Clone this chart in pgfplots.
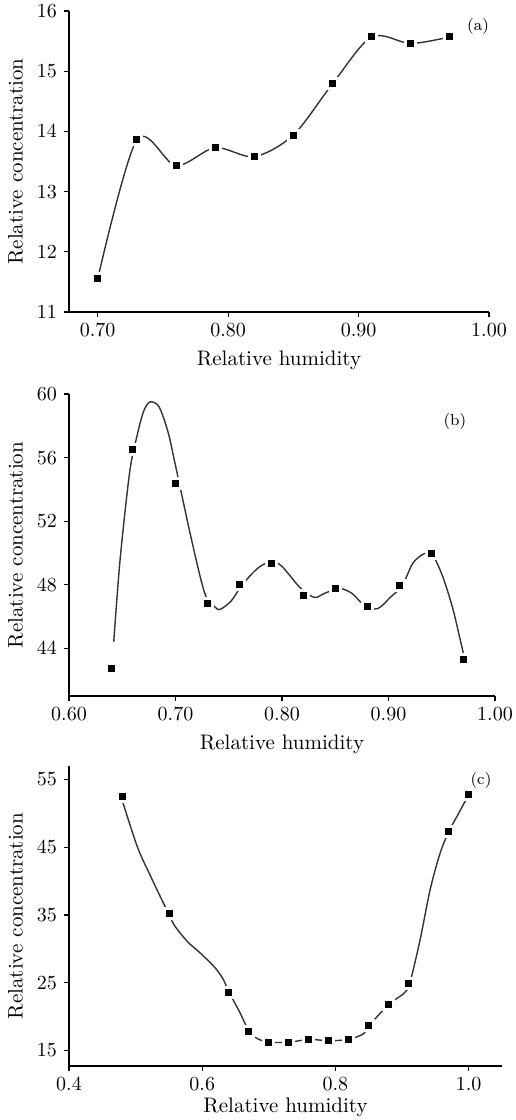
\documentclass[border=0pt]{standalone}
\usepackage{pgfplots}
\pgfplotsset{compat=1.18}
\usepackage{pgfplotstable}
\definecolor{curvegray}{HTML}{333333}

% markers of the three panels
\pgfplotstableread{
x y
0.70 11.55
0.73 13.86
0.76 13.43
0.79 13.73
0.82 13.58
0.85 13.94
0.88 14.79
0.91 15.57
0.94 15.46
0.97 15.57
}\ptsA
\pgfplotstableread{
x y
0.64 42.73
0.66 56.49
0.70 54.40
0.73 46.81
0.76 48.03
0.79 49.37
0.82 47.32
0.85 47.76
0.88 46.62
0.91 47.95
0.94 49.94
0.97 43.30
}\ptsB
\pgfplotstableread{
x y
0.48 52.53
0.55 35.30
0.64 23.64
0.67 17.77
0.70 16.23
0.73 16.20
0.76 16.63
0.79 16.43
0.82 16.63
0.85 18.65
0.88 21.81
0.91 24.93
0.97 47.40
1.00 52.78
}\ptsC
% fitted curves as drawn in the figure
\pgfplotstableread{
x y
0.642 44.40
0.648 49.60
0.657 55.10
0.664 57.40
0.670 58.90
0.676 59.50
0.6845 59.20
0.693 57.60
0.700 55.50
0.715 50.85
0.7275 47.46
0.737 46.60
0.742 46.45
0.7525 47.00
0.763 48.03
0.7775 49.05
0.790 49.47
0.800 49.15
0.8175 47.78
0.8306 47.20
0.840 47.46
0.854 47.76
0.8656 47.46
0.878 46.66
0.890 46.50
0.9024 47.25
0.913 47.95
0.923 49.37
0.934 49.96
0.942 49.80
0.951 48.50
0.960 46.60
0.966 44.93
0.9704 43.66
}\curveB
\pgfplotstableread{
x y
0.478 52.50
0.5025 45.10
0.5227 40.68
0.543 36.50
0.5495 35.30
0.558 33.50
0.578 31.05
0.598 29.30
0.618 27.35
0.631 25.60
0.640 23.64
0.656 20.70
0.6706 17.77
0.683 16.73
0.700 16.23
0.730 16.20
0.760 16.63
0.790 16.43
0.8195 16.63
0.8425 17.47
0.8505 18.65
0.880 21.80
0.9025 23.40
0.9115 24.93
0.927 31.30
0.942 38.70
0.957 44.10
0.9705 47.40
0.9825 49.57
1.000 52.78
}\curveC

\pgfplotsset{
  panel/.style={
    scale only axis,
    axis lines=left,
    axis line style={-, line width=0.6pt},
    tick align=outside,
    tick style={black, line width=0.6pt},
    major tick length=2.5pt,
    enlargelimits=false,
    clip=false,
    xlabel={Relative humidity},
    ylabel={Relative concentration},
    label style={font=\fontsize{10.5}{12}\selectfont},
    tick label style={font=\fontsize{10}{12}\selectfont},
  },
  halo/.style={only marks, mark=square*, mark size=3pt, mark options={draw=white, fill=white}},
  dot/.style={only marks, mark=square*, mark size=1.5pt, mark options={draw=black, fill=black}},
  fit/.style={curvegray, line width=0.7pt, smooth, tension=0.5, no marks},
}

\begin{document}
\begin{tikzpicture}
\useasboundingbox (0,0) rectangle (257.5pt,560pt);

% (a)
\begin{axis}[panel,
  at={(34.5pt,404pt)}, anchor=south west,
  width=210pt, height=150.5pt,
  xmin=0.678, xmax=1.00, ymin=11, ymax=16,
  xtick={0.7,0.8,0.9,1.0},
  ytick={11,12,13,14,15,16},
  xticklabel style={/pgf/number format/.cd, fixed, fixed zerofill, precision=2},
]
\addplot[fit] table[x=x,y=y]{\ptsA};
\addplot[halo] table[x=x,y=y]{\ptsA};
\addplot[dot] table[x=x,y=y]{\ptsA};
\node[font=\footnotesize] at (axis cs:0.9916,15.75) {(a)};
\end{axis}

% (b)
\begin{axis}[panel,
  at={(34.5pt,212pt)}, anchor=south west,
  width=213pt, height=151pt,
  xmin=0.60, xmax=1.00, ymin=41, ymax=60,
  xtick={0.6,0.7,0.8,0.9,1.0},
  ytick={44,48,52,56,60},
  xticklabel style={/pgf/number format/.cd, fixed, fixed zerofill, precision=2},
]
\addplot[fit] table[x=x,y=y]{\curveB};
\addplot[halo] table[x=x,y=y]{\ptsB};
\addplot[dot] table[x=x,y=y]{\ptsB};
\node[font=\footnotesize] at (axis cs:0.9624,58.27) {(b)};
\end{axis}

% (c)
\begin{axis}[panel,
  at={(34.5pt,27pt)}, anchor=south west,
  width=216.5pt, height=150pt,
  xmin=0.40, xmax=1.05, ymin=12.7, ymax=57,
  xtick={0.4,0.6,0.8,1.0},
  ytick={15,25,35,45,55},
  xticklabel style={/pgf/number format/.cd, fixed, fixed zerofill, precision=1},
  xlabel style={yshift=3.5pt},
]
\addplot[fit] table[x=x,y=y]{\curveC};
\addplot[halo] table[x=x,y=y]{\ptsC};
\addplot[dot] table[x=x,y=y]{\ptsC};
\node[font=\footnotesize] at (axis cs:1.0185,54.9) {(c)};
\end{axis}
\end{tikzpicture}
\end{document}
